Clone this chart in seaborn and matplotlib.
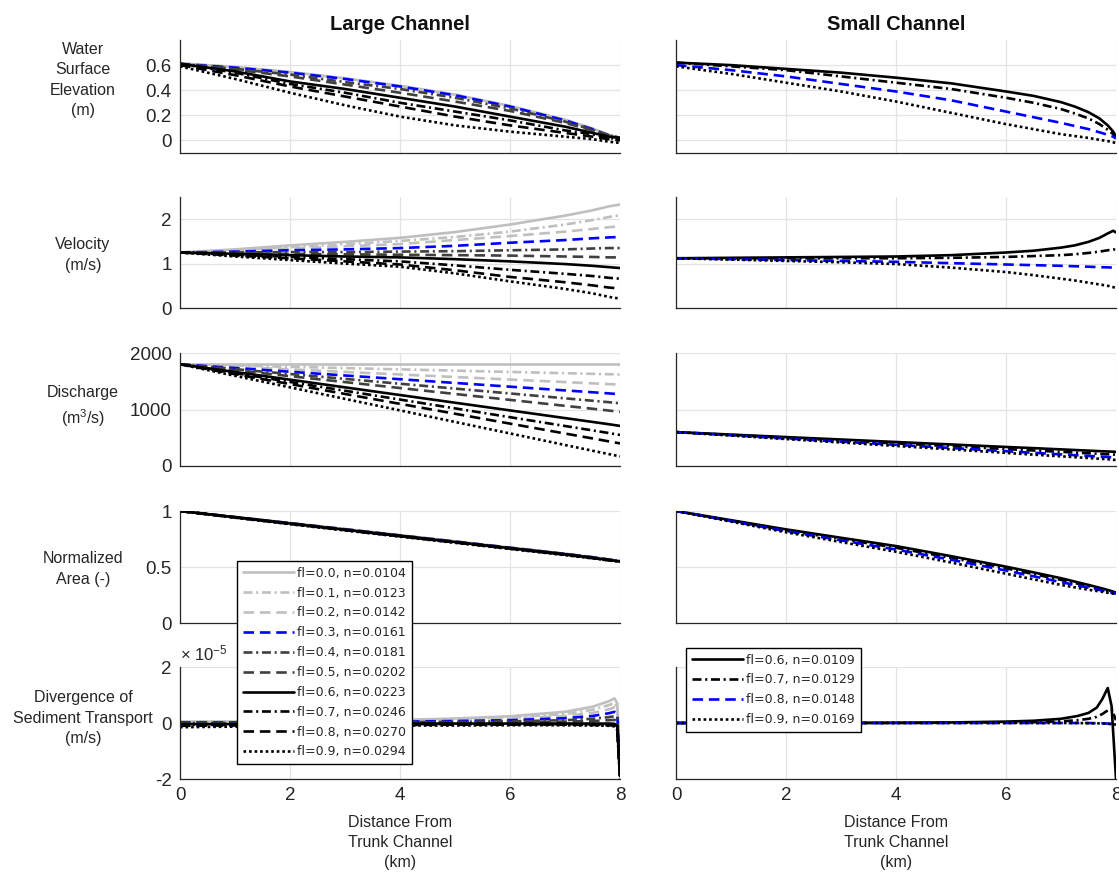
import matplotlib
matplotlib.use("Agg")
import numpy as np
import pandas as pd
import seaborn as sns
import matplotlib.pyplot as plt
from matplotlib.lines import Line2D

# ---------------- data ----------------
X_L = [0, 1, 2, 3, 4, 5, 6, 7, 7.5, 7.8, 8.0]
X_S = [0, 1, 2, 3, 4, 5, 6, 6.5, 7, 7.25, 7.5, 7.7, 7.85, 7.95, 8.0]
X_LD = [0, 1, 2, 3, 4, 5, 6, 7, 7.5, 7.8, 7.9, 7.95, 8.0]
X_SD = [0, 1, 2, 3, 4, 5, 6, 6.5, 7, 7.3, 7.5, 7.65, 7.75, 7.85, 7.92, 8.0]

FL_LARGE = ["0.0", "0.1", "0.2", "0.3", "0.4", "0.5", "0.6", "0.7", "0.8", "0.9"]
N_LARGE = ["0.0104", "0.0123", "0.0142", "0.0161", "0.0181", "0.0202", "0.0223", "0.0246", "0.0270", "0.0294"]
FL_SMALL = ["0.6", "0.7", "0.8", "0.9"]
N_SMALL = ["0.0109", "0.0129", "0.0148", "0.0169"]

# Water surface elevation (m), large channel
WSE_L = [
    [0.615, 0.585, 0.545, 0.495, 0.435, 0.365, 0.275, 0.165, 0.095, 0.045, 0.02],
    [0.613, 0.583, 0.543, 0.493, 0.433, 0.363, 0.273, 0.163, 0.093, 0.043, 0.02],
    [0.611, 0.581, 0.541, 0.491, 0.431, 0.361, 0.271, 0.161, 0.091, 0.041, 0.02],
    [0.61, 0.58, 0.54, 0.49, 0.43, 0.36, 0.27, 0.16, 0.09, 0.04, 0.02],
    [0.61, 0.57, 0.525, 0.465, 0.41, 0.34, 0.255, 0.15, 0.085, 0.04, 0.02],
    [0.61, 0.565, 0.51, 0.445, 0.38, 0.31, 0.235, 0.14, 0.08, 0.04, 0.02],
    [0.61, 0.55, 0.47, 0.41, 0.34, 0.27, 0.19, 0.11, 0.06, 0.03, 0.02],
    [0.61, 0.54, 0.45, 0.38, 0.30, 0.23, 0.16, 0.08, 0.05, 0.02, 0.01],
    [0.60, 0.52, 0.43, 0.35, 0.27, 0.19, 0.12, 0.06, 0.03, 0.01, 0.0],
    [0.59, 0.49, 0.38, 0.28, 0.19, 0.12, 0.07, 0.03, 0.01, -0.01, -0.02],
]
# Velocity (m/s), large channel
VEL_L = [
    [1.25, 1.32, 1.41, 1.49, 1.58, 1.71, 1.88, 2.08, 2.20, 2.29, 2.33],
    [1.25, 1.30, 1.37, 1.44, 1.51, 1.60, 1.72, 1.88, 1.98, 2.05, 2.09],
    [1.25, 1.29, 1.34, 1.39, 1.44, 1.53, 1.62, 1.72, 1.78, 1.82, 1.84],
    [1.25, 1.27, 1.30, 1.32, 1.35, 1.40, 1.47, 1.53, 1.57, 1.59, 1.60],
    [1.25, 1.25, 1.26, 1.26, 1.27, 1.28, 1.30, 1.32, 1.34, 1.35, 1.35],
    [1.25, 1.23, 1.22, 1.21, 1.20, 1.19, 1.18, 1.16, 1.15, 1.14, 1.14],
    [1.25, 1.22, 1.19, 1.16, 1.14, 1.10, 1.05, 0.99, 0.95, 0.92, 0.90],
    [1.25, 1.20, 1.15, 1.10, 1.05, 0.96, 0.86, 0.77, 0.72, 0.68, 0.66],
    [1.25, 1.18, 1.12, 1.05, 0.98, 0.85, 0.70, 0.58, 0.51, 0.46, 0.44],
    [1.25, 1.16, 1.08, 1.00, 0.93, 0.78, 0.60, 0.43, 0.33, 0.25, 0.21],
]
# Discharge (m3/s), large channel
Q_L = [
    [1800, 1800, 1800, 1800, 1800, 1800, 1800, 1800, 1800, 1800, 1800],
    [1800, 1778, 1755, 1733, 1710, 1688, 1665, 1643, 1631, 1624, 1620],
    [1800, 1755, 1710, 1665, 1620, 1575, 1530, 1485, 1463, 1449, 1440],
    [1800, 1734, 1668, 1602, 1536, 1470, 1404, 1338, 1305, 1285, 1270],
    [1800, 1714, 1628, 1542, 1456, 1370, 1284, 1198, 1155, 1129, 1110],
    [1800, 1695, 1590, 1485, 1380, 1275, 1170, 1065, 1013, 981, 960],
    [1800, 1664, 1528, 1392, 1256, 1120, 984, 848, 780, 739, 710],
    [1800, 1644, 1488, 1332, 1176, 1020, 864, 708, 630, 583, 550],
    [1800, 1625, 1450, 1275, 1100, 925, 750, 575, 488, 435, 400],
    [1800, 1596, 1392, 1188, 984, 780, 576, 372, 270, 210, 170],
]
# Normalized area (-), large channel
AREA_L = [
    [1.0, 0.947, 0.893, 0.839, 0.784, 0.729, 0.674, 0.619, 0.589, 0.568, 0.553],
    [1.0, 0.947, 0.892, 0.838, 0.783, 0.728, 0.673, 0.618, 0.588, 0.567, 0.553],
    [1.0, 0.946, 0.892, 0.837, 0.782, 0.727, 0.672, 0.617, 0.587, 0.566, 0.552],
    [1.0, 0.946, 0.891, 0.837, 0.782, 0.727, 0.672, 0.617, 0.587, 0.566, 0.552],
    [1.0, 0.945, 0.890, 0.835, 0.780, 0.725, 0.670, 0.615, 0.585, 0.565, 0.551],
    [1.0, 0.944, 0.889, 0.834, 0.779, 0.724, 0.669, 0.614, 0.584, 0.564, 0.550],
    [1.0, 0.944, 0.888, 0.833, 0.778, 0.723, 0.668, 0.613, 0.583, 0.563, 0.550],
    [1.0, 0.943, 0.887, 0.831, 0.776, 0.721, 0.666, 0.611, 0.581, 0.561, 0.549],
    [1.0, 0.942, 0.885, 0.829, 0.774, 0.719, 0.664, 0.609, 0.579, 0.560, 0.548],
    [1.0, 0.940, 0.882, 0.826, 0.771, 0.716, 0.661, 0.606, 0.577, 0.558, 0.547],
]
# Divergence of sediment transport (x1e-5 m/s), large channel
DIV_L = [
    [0.05, 0.05, 0.06, 0.08, 0.11, 0.16, 0.24, 0.40, 0.58, 0.78, 0.88, 0.70, -1.6],
    [0.04, 0.04, 0.05, 0.06, 0.09, 0.13, 0.19, 0.32, 0.47, 0.64, 0.72, 0.58, -1.6],
    [0.03, 0.03, 0.04, 0.05, 0.07, 0.10, 0.15, 0.25, 0.36, 0.49, 0.56, 0.46, -1.6],
    [0.02, 0.02, 0.03, 0.04, 0.05, 0.07, 0.10, 0.17, 0.25, 0.35, 0.40, 0.34, -1.7],
    [0.0, 0.0, 0.01, 0.02, 0.03, 0.04, 0.06, 0.10, 0.15, 0.21, 0.24, 0.20, -1.7],
    [-0.02, -0.02, -0.01, 0.0, 0.01, 0.02, 0.03, 0.05, 0.07, 0.10, 0.11, 0.08, -1.8],
    [-0.04, -0.04, -0.03, -0.03, -0.02, -0.02, -0.02, -0.02, -0.02, -0.02, -0.03, -0.10, -1.9],
    [-0.07, -0.06, -0.05, -0.05, -0.04, -0.04, -0.04, -0.04, -0.04, -0.05, -0.06, -0.15, -1.9],
    [-0.10, -0.09, -0.08, -0.07, -0.07, -0.06, -0.06, -0.06, -0.07, -0.08, -0.10, -0.20, -2.0],
    [-0.15, -0.13, -0.11, -0.10, -0.09, -0.09, -0.08, -0.08, -0.09, -0.10, -0.12, -0.25, -2.0],
]

# Small channel
WSE_S = [
    [0.62, 0.60, 0.57, 0.54, 0.50, 0.455, 0.39, 0.355, 0.305, 0.27, 0.225, 0.175, 0.12, 0.07, 0.03],
    [0.62, 0.59, 0.56, 0.51, 0.46, 0.41, 0.34, 0.30, 0.25, 0.215, 0.175, 0.13, 0.085, 0.05, 0.02],
    [0.60, 0.56, 0.51, 0.45, 0.39, 0.32, 0.23, 0.185, 0.14, 0.115, 0.09, 0.065, 0.045, 0.03, 0.015],
    [0.59, 0.53, 0.46, 0.39, 0.31, 0.22, 0.13, 0.09, 0.05, 0.035, 0.02, 0.005, -0.005, -0.015, -0.02],
]
VEL_S = [
    [1.12, 1.13, 1.14, 1.15, 1.16, 1.19, 1.25, 1.29, 1.36, 1.41, 1.49, 1.58, 1.68, 1.74, 1.70],
    [1.12, 1.12, 1.12, 1.12, 1.12, 1.13, 1.15, 1.17, 1.19, 1.21, 1.24, 1.27, 1.30, 1.32, 1.31],
    [1.12, 1.10, 1.08, 1.06, 1.04, 1.01, 0.98, 0.965, 0.95, 0.94, 0.93, 0.92, 0.915, 0.91, 0.91],
    [1.12, 1.09, 1.06, 1.03, 0.99, 0.91, 0.81, 0.74, 0.66, 0.62, 0.57, 0.53, 0.50, 0.47, 0.45],
]
Q_S = [
    [600, 556, 512, 469, 425, 381, 337, 316, 294, 283, 272, 263, 257, 253, 250],
    [600, 550, 500, 450, 400, 350, 300, 275, 250, 238, 225, 215, 208, 203, 200],
    [600, 544, 487, 431, 375, 319, 262, 234, 206, 192, 178, 167, 159, 153, 150],
    [600, 539, 477, 416, 355, 294, 232, 201, 171, 156, 141, 128, 119, 111, 105],
]
AREA_S = [
    [1.0, 0.918, 0.836, 0.761, 0.687, 0.597, 0.503, 0.452, 0.40, 0.37, 0.34, 0.315, 0.295, 0.28, 0.27],
    [1.0, 0.914, 0.828, 0.750, 0.672, 0.582, 0.488, 0.437, 0.385, 0.357, 0.33, 0.305, 0.287, 0.273, 0.265],
    [1.0, 0.910, 0.820, 0.738, 0.656, 0.565, 0.468, 0.417, 0.365, 0.34, 0.315, 0.295, 0.28, 0.268, 0.262],
    [1.0, 0.905, 0.810, 0.723, 0.636, 0.540, 0.440, 0.39, 0.340, 0.318, 0.297, 0.282, 0.27, 0.262, 0.258],
]
DIV_S = [
    [0, 0, 0, 0.005, 0.01, 0.02, 0.05, 0.08, 0.15, 0.25, 0.36, 0.55, 0.85, 1.25, 0.6, -2.0],
    [0, 0, 0, 0, 0, 0.01, 0.02, 0.03, 0.06, 0.10, 0.15, 0.22, 0.32, 0.45, 0.50, 0.10],
    [0, 0, 0, 0, 0, 0, 0, 0, 0, 0, 0, -0.01, -0.01, -0.02, -0.03, -0.05],
    [0, 0, 0, 0, 0, 0, 0, 0, 0, 0, -0.01, -0.01, -0.02, -0.03, -0.04, -0.06],
]

# ---------------- styles ----------------
LIGHT, DARK, BLUE, BLACK = "#bfbfbf", "#404040", "#0000ff", "#000000"
SOLID = "-"
DASHED = (0, (4.0, 2.2))
DASHDOT = (0, (3.4, 1.4, 0.8, 1.4))
DOTTED = (0, (1.0, 1.1))
STY_L = [(LIGHT, SOLID), (LIGHT, DASHDOT), (LIGHT, DASHED), (BLUE, DASHED),
         (DARK, DASHDOT), (DARK, DASHED), (BLACK, SOLID), (BLACK, DASHDOT),
         (BLACK, DASHED), (BLACK, DOTTED)]
STY_S = [(BLACK, SOLID), (BLACK, DASHDOT), (BLUE, DASHED), (BLACK, DOTTED)]
LW = 1.9

sns.set_style("white")
plt.rcParams["font.family"] = ["Liberation Sans", "DejaVu Sans"]
plt.rcParams["mathtext.default"] = "regular"

W, H = 1119, 873
fig = plt.figure(figsize=(W / 100, H / 100), dpi=100)
rows_px = [(40, 153), (197, 308), (353, 466), (511, 623), (667, 779)]
cols_px = [(180, 620), (676, 1116)]
axes = [[fig.add_axes([l / W, 1 - b / H, (r - l) / W, (b - t) / H]) for (l, r) in cols_px]
        for (t, b) in rows_px]

ylims = [(-0.1, 0.8), (0, 2.5), (0, 2000), (0, 1), (-2, 2)]
yticks = [[0, 0.2, 0.4, 0.6], [0, 1, 2], [0, 1000, 2000], [0, 0.5, 1], [-2, 0, 2]]
ytl = [["0", "0.2", "0.4", "0.6"], ["0", "1", "2"], ["0", "1000", "2000"],
       ["0", "0.5", "1"], ["-2", "0", "2"]]
ylabels = ["Water\nSurface\nElevation\n(m)", "Velocity\n(m/s)", "Discharge\n(m$^3$/s)",
           "Normalized\nArea (-)", "Divergence of\nSediment Transport\n(m/s)"]
ylabel_centers_px = [80, 255, 407, 569, 718]

large_sets = [(X_L, WSE_L), (X_L, VEL_L), (X_L, Q_L), (X_L, AREA_L), (X_LD, DIV_L)]
small_sets = [(X_S, WSE_S), (X_S, VEL_S), (X_S, Q_S), (X_S, AREA_S), (X_SD, DIV_S)]

for r in range(5):
    for c in range(2):
        ax = axes[r][c]
        xs, series = (large_sets if c == 0 else small_sets)[r]
        styles = STY_L if c == 0 else STY_S
        for vals, (col, ls) in zip(series, styles):
            df = pd.DataFrame({"x": xs, "y": vals})
            sns.lineplot(data=df, x="x", y="y", ax=ax, color=col, linestyle=ls,
                         linewidth=LW, legend=False, sort=False)
        ax.set_xlim(0, 8)
        ax.set_ylim(*ylims[r])
        ax.set_xticks([0, 2, 4, 6, 8])
        ax.set_yticks(yticks[r])
        ax.set_xlabel("")
        ax.set_ylabel("")
        ax.grid(True, color="#e3e3e3", linewidth=0.9)
        ax.set_axisbelow(True)
        for s in ["top", "right"]:
            ax.spines[s].set_visible(False)
        for s in ["left", "bottom"]:
            ax.spines[s].set_color("#262626")
            ax.spines[s].set_linewidth(0.9)
        ax.tick_params(direction="in", length=4, width=0.8, color="#262626",
                       labelsize=13.5, labelcolor="#262626", pad=6)
        if c == 0:
            ax.set_yticklabels(ytl[r])
        else:
            ax.set_yticklabels([])
        if r < 4:
            ax.set_xticklabels([])
        else:
            ax.set_xticklabels(["0", "2", "4", "6", "8"])
            ax.set_xlabel("Distance From\nTrunk Channel\n(km)", fontsize=11.5,
                          color="#262626", labelpad=8, linespacing=1.4)

    fig.text(83 / W, 1 - ylabel_centers_px[r] / H, ylabels[r], ha="center", va="center",
             fontsize=11.5, color="#262626", multialignment="center", linespacing=1.42)

axes[4][0].text(0.0, 1.03, "× 10$^{-5}$", transform=axes[4][0].transAxes,
                ha="left", va="bottom", fontsize=12, color="#262626")

fig.text(400 / W, 1 - 25 / H, "Large Channel", ha="center", va="center",
         fontsize=14.5, fontweight="bold", color="#111111")
fig.text(896 / W, 1 - 25 / H, "Small Channel", ha="center", va="center",
         fontsize=14.5, fontweight="bold", color="#111111")

# legends
h_l = [Line2D([], [], color=col, linestyle=ls, linewidth=LW) for col, ls in STY_L]
lab_l = [f"fl={f}, n={n}" for f, n in zip(FL_LARGE, N_LARGE)]
leg1 = fig.legend(h_l, lab_l, loc="upper left", bbox_to_anchor=(237 / W, 1 - 561 / H),
                  prop={"family": "DejaVu Sans", "size": 9}, frameon=True, fancybox=False,
                  edgecolor="black", framealpha=1, handlelength=4.1, handletextpad=0.25,
                  labelspacing=0.55, borderpad=0.45, borderaxespad=0)
leg1.get_frame().set_linewidth(1.0)

h_s = [Line2D([], [], color=col, linestyle=ls, linewidth=LW) for col, ls in STY_S]
lab_s = [f"fl={f}, n={n}" for f, n in zip(FL_SMALL, N_SMALL)]
leg2 = fig.legend(h_s, lab_s, loc="upper left", bbox_to_anchor=(686 / W, 1 - 648 / H),
                  prop={"family": "DejaVu Sans", "size": 9}, frameon=True, fancybox=False,
                  edgecolor="black", framealpha=1, handlelength=4.1, handletextpad=0.25,
                  labelspacing=0.55, borderpad=0.45, borderaxespad=0)
leg2.get_frame().set_linewidth(1.0)

fig.savefig("out.png", dpi=100, facecolor="white")
